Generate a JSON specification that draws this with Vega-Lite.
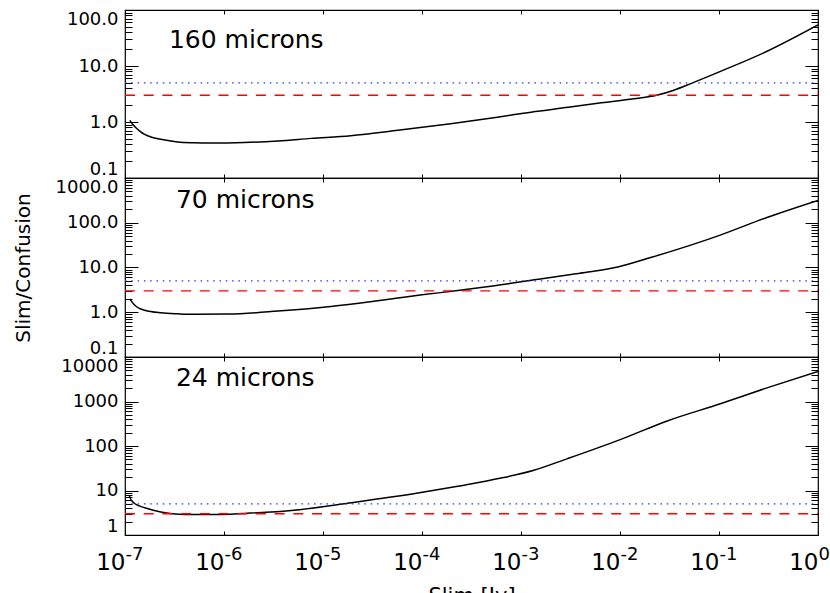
{
  "$schema": "https://vega.github.io/schema/vega-lite/v6.json",
  "background": "white",
  "padding": {"left": 12, "top": 8, "right": 0, "bottom": 0},
  "spacing": 0,
  "bounds": "flush",
  "config": {
    "view": {"stroke": "black", "strokeWidth": 1.2},
    "axis": {"domain": false, "grid": false, "tickColor": "black", "tickWidth": 1, "labelColor": "black", "labelFont": "DejaVu Sans", "titleFont": "DejaVu Sans", "titleFontWeight": "normal", "titleColor": "black", "labelFlush": false, "labelOverlap": false}
  },
  "datasets": {
    "c160": [
      {"x": 1.12e-7, "y": 1.07}, {"x": 1.2e-7, "y": 0.9}, {"x": 1.29e-7, "y": 0.79}, {"x": 1.42e-7, "y": 0.68}, {"x": 1.58e-7, "y": 0.6}, {"x": 1.9e-7, "y": 0.53}, {"x": 2.3e-7, "y": 0.49}, {"x": 3.4e-7, "y": 0.44}, {"x": 5e-7, "y": 0.425}, {"x": 7.4e-7, "y": 0.42}, {"x": 1.6e-6, "y": 0.43}, {"x": 3.5e-6, "y": 0.46}, {"x": 7.6e-6, "y": 0.51}, {"x": 1.9e-5, "y": 0.57}, {"x": 5.7e-5, "y": 0.71}, {"x": 1.95e-4, "y": 0.93}, {"x": 6e-4, "y": 1.23}, {"x": 1.26e-3, "y": 1.5}, {"x": 3e-3, "y": 1.83}, {"x": 6.5e-3, "y": 2.2}, {"x": 1.38e-2, "y": 2.6}, {"x": 2.34e-2, "y": 3.0}, {"x": 3.5e-2, "y": 3.7}, {"x": 5.4e-2, "y": 5.0}, {"x": 0.105, "y": 8.1}, {"x": 0.31, "y": 18.5}, {"x": 1, "y": 54}
    ],
    "c70": [
      {"x": 1.12e-7, "y": 2.0}, {"x": 1.2e-7, "y": 1.6}, {"x": 1.29e-7, "y": 1.36}, {"x": 1.42e-7, "y": 1.2}, {"x": 1.58e-7, "y": 1.11}, {"x": 2.3e-7, "y": 0.97}, {"x": 3.5e-7, "y": 0.92}, {"x": 5e-7, "y": 0.9}, {"x": 1.1e-6, "y": 0.91}, {"x": 3.5e-6, "y": 1.06}, {"x": 1.2e-5, "y": 1.35}, {"x": 3e-5, "y": 1.72}, {"x": 5.7e-5, "y": 2.08}, {"x": 1e-4, "y": 2.45}, {"x": 2.3e-4, "y": 3.05}, {"x": 6.3e-4, "y": 4.1}, {"x": 1e-3, "y": 4.8}, {"x": 1.35e-3, "y": 5.3}, {"x": 3.2e-3, "y": 7.0}, {"x": 5e-3, "y": 8.0}, {"x": 9.5e-3, "y": 10.3}, {"x": 2.04e-2, "y": 16.7}, {"x": 0.098, "y": 51}, {"x": 0.31, "y": 133}, {"x": 1, "y": 316}
    ],
    "c24": [
      {"x": 1.1e-7, "y": 7.8}, {"x": 1.15e-7, "y": 6.2}, {"x": 1.23e-7, "y": 5.25}, {"x": 1.4e-7, "y": 4.5}, {"x": 1.58e-7, "y": 4.1}, {"x": 2.3e-7, "y": 3.3}, {"x": 3e-7, "y": 3.0}, {"x": 4e-7, "y": 2.88}, {"x": 7.4e-7, "y": 2.87}, {"x": 1.6e-6, "y": 3.05}, {"x": 5.1e-6, "y": 3.6}, {"x": 1.9e-5, "y": 5.3}, {"x": 9.1e-5, "y": 8.8}, {"x": 2.3e-4, "y": 12.5}, {"x": 6.3e-4, "y": 19}, {"x": 1.35e-3, "y": 28.5}, {"x": 2.95e-3, "y": 52}, {"x": 1.02e-2, "y": 141}, {"x": 3e-2, "y": 366}, {"x": 0.105, "y": 900}, {"x": 0.316, "y": 2080}, {"x": 1, "y": 4760}
    ],
    "blue": [{"x": 1e-7, "y": 5}, {"x": 1, "y": 5}],
    "red": [{"x": 1e-7, "y": 3}, {"x": 1, "y": 3}]
  },
  "vconcat": [
    {
      "width": 693, "height": 168,
      "resolve": {"axis": {"x": "independent", "y": "independent"}},
      "layer": [
        {"data": {"name": "c160"}, "mark": {"type": "line", "color": "black", "strokeWidth": 1.5, "clip": true, "interpolate": "monotone"},
         "encoding": {
           "x": {"field": "x", "type": "quantitative", "scale": {"type": "log", "domain": [1e-7, 1], "nice": false}, "axis": {"orient": "bottom", "values": [1e-7, 1e-6, 1e-5, 1e-4, 1e-3, 1e-2, 1e-1, 1], "tickSize": -4, "labels": false, "title": null}},
           "y": {"field": "y", "type": "quantitative", "scale": {"type": "log", "domain": [0.1, 100], "nice": false}, "axis": {"orient": "left", "values": [0.1, 1, 10, 100], "tickSize": -13, "labelPadding": 20, "labelFontSize": 18, "format": ".1f", "labelFlush": true, "labelDy": 4, "title": null}}
         }},
        {"data": {"name": "blue"}, "mark": {"type": "line", "color": "#2233ff", "strokeWidth": 1.2, "strokeDash": [1.5, 4.8]},
         "encoding": {
           "x": {"field": "x", "type": "quantitative", "scale": {"type": "log", "domain": [1e-7, 1], "nice": false}, "axis": {"orient": "top", "values": [1e-7, 1e-6, 1e-5, 1e-4, 1e-3, 1e-2, 1e-1, 1], "tickSize": -4, "labels": false, "title": null}},
           "y": {"field": "y", "type": "quantitative", "scale": {"type": "log", "domain": [0.1, 100], "nice": false}, "axis": {"orient": "left", "values": [0.2, 0.3, 0.4, 0.5, 0.6, 0.7, 0.8, 0.9, 2, 3, 4, 5, 6, 7, 8, 9, 20, 30, 40, 50, 60, 70, 80, 90], "tickSize": -7, "labels": false, "title": null}}
         }},
        {"data": {"name": "red"}, "mark": {"type": "line", "color": "#ff0000", "strokeWidth": 1.4, "strokeDash": [10, 8.7]},
         "encoding": {
           "x": {"field": "x", "type": "quantitative", "scale": {"type": "log", "domain": [1e-7, 1], "nice": false}, "axis": null},
           "y": {"field": "y", "type": "quantitative", "scale": {"type": "log", "domain": [0.1, 100], "nice": false}, "axis": {"orient": "right", "values": [0.1, 1, 10, 100], "tickSize": -13, "labels": false, "title": null}}
         }},
        {"data": {"values": [{"x": 2.78e-7, "y": 20.9, "label": "160 microns"}]}, "mark": {"type": "text", "align": "left", "baseline": "alphabetic", "font": "DejaVu Sans", "fontSize": 25, "color": "black"},
         "encoding": {
           "x": {"field": "x", "type": "quantitative", "scale": {"type": "log", "domain": [1e-7, 1], "nice": false}, "axis": null},
           "y": {"field": "y", "type": "quantitative", "scale": {"type": "log", "domain": [0.1, 100], "nice": false}, "axis": {"orient": "right", "values": [0.2, 0.3, 0.4, 0.5, 0.6, 0.7, 0.8, 0.9, 2, 3, 4, 5, 6, 7, 8, 9, 20, 30, 40, 50, 60, 70, 80, 90], "tickSize": -7, "labels": false, "title": null}},
           "text": {"field": "label"}
         }}
      ]
    },
    {
      "width": 693, "height": 179,
      "resolve": {"axis": {"x": "independent", "y": "independent"}},
      "layer": [
        {"data": {"name": "c70"}, "mark": {"type": "line", "color": "black", "strokeWidth": 1.5, "clip": true, "interpolate": "monotone"},
         "encoding": {
           "x": {"field": "x", "type": "quantitative", "scale": {"type": "log", "domain": [1e-7, 1], "nice": false}, "axis": {"orient": "bottom", "values": [1e-7, 1e-6, 1e-5, 1e-4, 1e-3, 1e-2, 1e-1, 1], "tickSize": -4, "labels": false, "title": null}},
           "y": {"field": "y", "type": "quantitative", "scale": {"type": "log", "domain": [0.1, 1000], "nice": false}, "axis": {"orient": "left", "values": [0.1, 1, 10, 100, 1000], "tickSize": -13, "labelPadding": 20, "labelFontSize": 18, "format": ".1f", "labelFlush": true, "labelDy": 4, "title": "Slim/Confusion", "titleFontSize": 20, "titlePadding": 22}}
         }},
        {"data": {"name": "blue"}, "mark": {"type": "line", "color": "#2233ff", "strokeWidth": 1.2, "strokeDash": [1.5, 4.8]},
         "encoding": {
           "x": {"field": "x", "type": "quantitative", "scale": {"type": "log", "domain": [1e-7, 1], "nice": false}, "axis": {"orient": "top", "values": [1e-7, 1e-6, 1e-5, 1e-4, 1e-3, 1e-2, 1e-1, 1], "tickSize": -4, "labels": false, "title": null}},
           "y": {"field": "y", "type": "quantitative", "scale": {"type": "log", "domain": [0.1, 1000], "nice": false}, "axis": {"orient": "left", "values": [0.2, 0.3, 0.4, 0.5, 0.6, 0.7, 0.8, 0.9, 2, 3, 4, 5, 6, 7, 8, 9, 20, 30, 40, 50, 60, 70, 80, 90, 200, 300, 400, 500, 600, 700, 800, 900], "tickSize": -7, "labels": false, "title": null}}
         }},
        {"data": {"name": "red"}, "mark": {"type": "line", "color": "#ff0000", "strokeWidth": 1.4, "strokeDash": [10, 8.7]},
         "encoding": {
           "x": {"field": "x", "type": "quantitative", "scale": {"type": "log", "domain": [1e-7, 1], "nice": false}, "axis": null},
           "y": {"field": "y", "type": "quantitative", "scale": {"type": "log", "domain": [0.1, 1000], "nice": false}, "axis": {"orient": "right", "values": [0.1, 1, 10, 100, 1000], "tickSize": -13, "labels": false, "title": null}}
         }},
        {"data": {"values": [{"x": 3.27e-7, "y": 217, "label": "70 microns"}]}, "mark": {"type": "text", "align": "left", "baseline": "alphabetic", "font": "DejaVu Sans", "fontSize": 25, "color": "black"},
         "encoding": {
           "x": {"field": "x", "type": "quantitative", "scale": {"type": "log", "domain": [1e-7, 1], "nice": false}, "axis": null},
           "y": {"field": "y", "type": "quantitative", "scale": {"type": "log", "domain": [0.1, 1000], "nice": false}, "axis": {"orient": "right", "values": [0.2, 0.3, 0.4, 0.5, 0.6, 0.7, 0.8, 0.9, 2, 3, 4, 5, 6, 7, 8, 9, 20, 30, 40, 50, 60, 70, 80, 90, 200, 300, 400, 500, 600, 700, 800, 900], "tickSize": -7, "labels": false, "title": null}},
           "text": {"field": "label"}
         }}
      ]
    },
    {
      "width": 693, "height": 178,
      "resolve": {"axis": {"x": "independent", "y": "independent"}},
      "layer": [
        {"data": {"name": "c24"}, "mark": {"type": "line", "color": "black", "strokeWidth": 1.5, "clip": true, "interpolate": "monotone"},
         "encoding": {
           "x": {"field": "x", "type": "quantitative", "scale": {"type": "log", "domain": [1e-7, 1], "nice": false}, "axis": {"orient": "bottom", "values": [1e-7, 1e-6, 1e-5, 1e-4, 1e-3, 1e-2, 1e-1, 1], "tickSize": -4, "labelExpr": "'10'", "labelFontSize": 23, "labelAlign": "right", "labelDx": 11, "labelPadding": 20, "labelBaseline": "top", "title": "Slim [Jy]", "titleFontSize": 21, "titlePadding": 11}},
           "y": {"field": "y", "type": "quantitative", "scale": {"type": "log", "domain": [1, 10000], "nice": false}, "axis": {"orient": "left", "values": [1, 10, 100, 1000, 10000], "tickSize": -13, "labelPadding": 20, "labelFontSize": 18, "format": "d", "labelFlush": true, "labelDy": 4, "title": null}}
         }},
        {"data": {"name": "blue"}, "mark": {"type": "line", "color": "#2233ff", "strokeWidth": 1.2, "strokeDash": [1.5, 4.8]},
         "encoding": {
           "x": {"field": "x", "type": "quantitative", "scale": {"type": "log", "domain": [1e-7, 1], "nice": false}, "axis": {"orient": "top", "values": [1e-7, 1e-6, 1e-5, 1e-4, 1e-3, 1e-2, 1e-1, 1], "tickSize": -4, "labels": false, "title": null}},
           "y": {"field": "y", "type": "quantitative", "scale": {"type": "log", "domain": [1, 10000], "nice": false}, "axis": {"orient": "left", "values": [2, 3, 4, 5, 6, 7, 8, 9, 20, 30, 40, 50, 60, 70, 80, 90, 200, 300, 400, 500, 600, 700, 800, 900, 2000, 3000, 4000, 5000, 6000, 7000, 8000, 9000], "tickSize": -7, "labels": false, "title": null}}
         }},
        {"data": {"name": "red"}, "mark": {"type": "line", "color": "#ff0000", "strokeWidth": 1.4, "strokeDash": [10, 8.7]},
         "encoding": {
           "x": {"field": "x", "type": "quantitative", "scale": {"type": "log", "domain": [1e-7, 1], "nice": false}, "axis": {"orient": "bottom", "values": [1e-7, 1e-6, 1e-5, 1e-4, 1e-3, 1e-2, 1e-1, 1], "ticks": false, "labelExpr": "'' + round(log(datum.value) / LN10)", "labelFontSize": 18, "labelAlign": "left", "labelDx": 11, "labelPadding": 10, "labelBaseline": "top", "title": null}},
           "y": {"field": "y", "type": "quantitative", "scale": {"type": "log", "domain": [1, 10000], "nice": false}, "axis": {"orient": "right", "values": [1, 10, 100, 1000, 10000], "tickSize": -13, "labels": false, "title": null}}
         }},
        {"data": {"values": [{"x": 3.27e-7, "y": 2262, "label": "24 microns"}]}, "mark": {"type": "text", "align": "left", "baseline": "alphabetic", "font": "DejaVu Sans", "fontSize": 25, "color": "black"},
         "encoding": {
           "x": {"field": "x", "type": "quantitative", "scale": {"type": "log", "domain": [1e-7, 1], "nice": false}, "axis": null},
           "y": {"field": "y", "type": "quantitative", "scale": {"type": "log", "domain": [1, 10000], "nice": false}, "axis": {"orient": "right", "values": [2, 3, 4, 5, 6, 7, 8, 9, 20, 30, 40, 50, 60, 70, 80, 90, 200, 300, 400, 500, 600, 700, 800, 900, 2000, 3000, 4000, 5000, 6000, 7000, 8000, 9000], "tickSize": -7, "labels": false, "title": null}},
           "text": {"field": "label"}
         }}
      ]
    }
  ]
}
